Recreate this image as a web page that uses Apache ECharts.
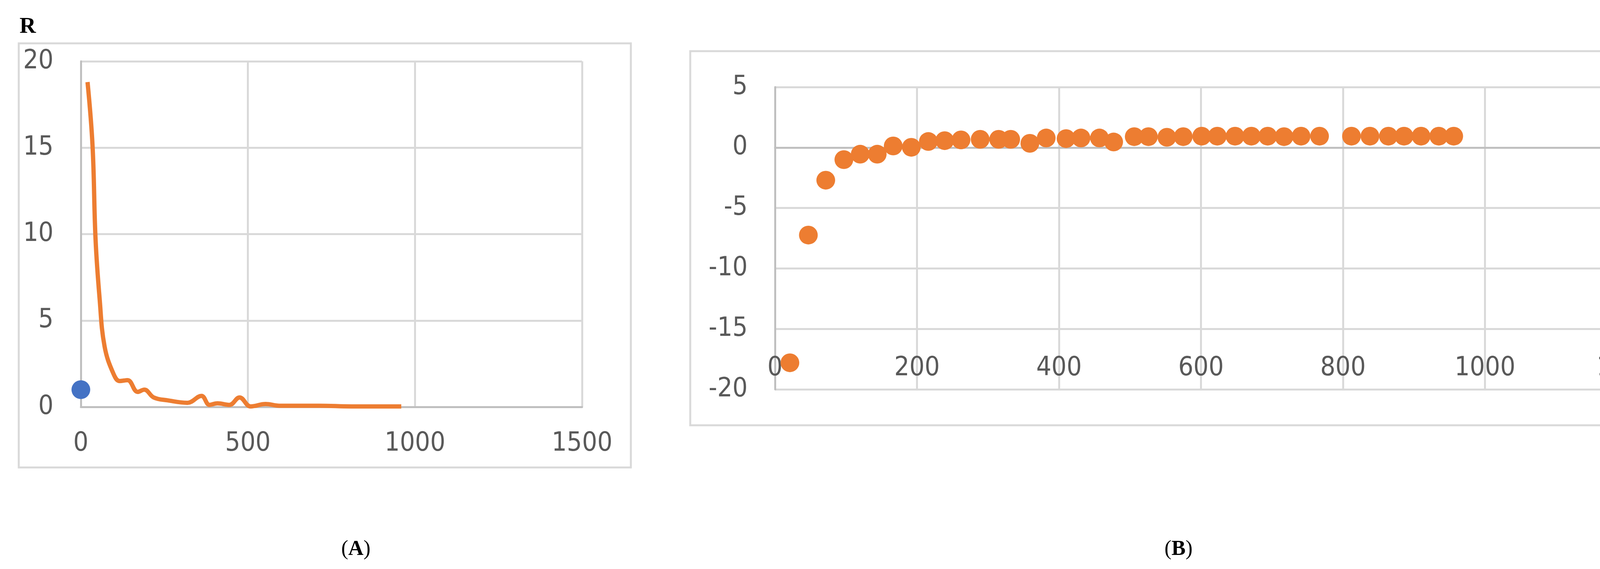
<!DOCTYPE html>
<html><head><meta charset="utf-8">
<script src="https://cdn.jsdelivr.net/npm/echarts@6/dist/echarts.min.js"></script>
<style>html,body{margin:0;padding:0;background:#fff}#c{width:4344px;height:1457px}</style>
</head><body><div id="c"></div>
<script>
const lineX=[20,35,44,56,71,98,116,140,170,190,218,260,319,361,385,409,445,475,508,553,594,714,810,959];
const lineY=[18.8,15.1,9.7,6.3,3.5,1.9,1.5,1.55,0.87,1.0,0.55,0.38,0.24,0.64,0.12,0.21,0.12,0.55,0.03,0.17,0.07,0.07,0.03,0.03];
const blueX=[0], blueY=[1.0];
const scatX=[21,47,71.5,97,120,144,166.5,192,216,239,262,289,315,332,359,382,410,431,457,477,506,526,552,575,601,623,648,671,694,717,741,767,812,838,864,886,910,935,956];
const scatY=[-17.8,-7.24,-2.7,-1.0,-0.55,-0.55,0.13,0.02,0.5,0.57,0.63,0.68,0.68,0.68,0.35,0.79,0.74,0.79,0.79,0.46,0.9,0.9,0.85,0.9,0.94,0.94,0.94,0.94,0.94,0.9,0.94,0.94,0.94,0.94,0.94,0.94,0.94,0.94,0.94];
const ticksA={xMax:1500,xInt:500,yMin:0,yMax:20,yInt:5};
const ticksB={xMax:1200,xInt:200,yMin:-20,yMax:5,yInt:5};
const zip=(a,b)=>a.map((v,i)=>[v,b[i]]);
const font='"Liberation Sans Narrow","DejaVu Sans Condensed","Open Sans",sans-serif';
const lab={color:'#595959',fontSize:68,fontFamily:font,formatter:v=>String(v)};
const grid='#d9d9d9', axc='#bfbfbf';
const chart=echarts.init(document.getElementById('c'));
chart.setOption({
 animation:false,
 graphic:[
  {type:'rect',shape:{x:48,y:111,width:1567,height:1086},style:{fill:'none',stroke:'#d9d9d9',lineWidth:5}},
  {type:'rect',shape:{x:1767,y:131,width:2540,height:958},style:{fill:'none',stroke:'#d9d9d9',lineWidth:5}},
  {type:'text',left:50,top:40,style:{text:'R',font:'bold 58px "Liberation Serif",serif',fill:'#000'}},
  {type:'text',x:911,y:1407,style:{text:'({b|A})',font:'54px "Liberation Serif",serif',fill:'#000',align:'center',verticalAlign:'middle',rich:{b:{fontWeight:'bold',fontSize:54,fontFamily:'"Liberation Serif",serif'}}}},
  {type:'text',x:3017,y:1407,style:{text:'({b|B})',font:'54px "Liberation Serif",serif',fill:'#000',align:'center',verticalAlign:'middle',rich:{b:{fontWeight:'bold',fontSize:54,fontFamily:'"Liberation Serif",serif'}}}}
 ],
 grid:[{left:207,top:157,width:1283,height:885},{left:1984,top:223,width:2181,height:774}],
 xAxis:[
  {gridIndex:0,type:'value',min:0,max:ticksA.xMax,interval:ticksA.xInt,axisLabel:{...lab,margin:60},axisTick:{show:false},axisLine:{lineStyle:{color:axc,width:5}},splitLine:{lineStyle:{color:grid,width:5}}},
  {gridIndex:1,type:'value',min:0,max:ticksB.xMax,interval:ticksB.xInt,axisLabel:{...lab,margin:-88},axisTick:{show:false},axisLine:{onZero:true,lineStyle:{color:axc,width:5}},splitLine:{lineStyle:{color:grid,width:5}}}
 ],
 yAxis:[
  {gridIndex:0,type:'value',min:ticksA.yMin,max:ticksA.yMax,interval:ticksA.yInt,axisLabel:{...lab,margin:70},axisTick:{show:false},axisLine:{show:true,lineStyle:{color:axc,width:5}},splitLine:{lineStyle:{color:grid,width:5}}},
  {gridIndex:1,type:'value',min:ticksB.yMin,max:ticksB.yMax,interval:ticksB.yInt,axisLabel:{...lab,margin:70},axisTick:{show:false},axisLine:{show:true,onZero:false,lineStyle:{color:axc,width:5}},splitLine:{lineStyle:{color:grid,width:5}}}
 ],
 series:[
  {type:'line',xAxisIndex:0,yAxisIndex:0,data:zip(lineX,lineY),smooth:0.4,showSymbol:false,lineStyle:{color:'#ED7D31',width:11},itemStyle:{color:'#ED7D31'}},
  {type:'scatter',xAxisIndex:0,yAxisIndex:0,data:zip(blueX,blueY),symbolSize:48,itemStyle:{color:'#4472C4',opacity:1}},
  {type:'scatter',xAxisIndex:1,yAxisIndex:1,data:zip(scatX,scatY),symbolSize:48,itemStyle:{color:'#ED7D31',opacity:1}}
 ]
});
</script></body></html>
